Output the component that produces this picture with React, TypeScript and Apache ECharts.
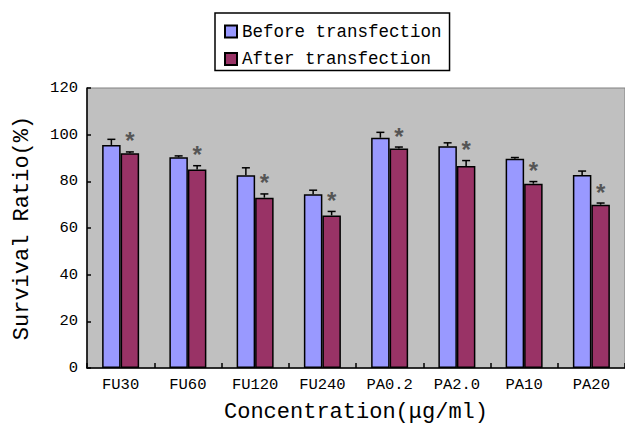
import React, { useEffect, useRef } from "react";
import * as echarts from "echarts";

const categories = ["FU30", "FU60", "FU120", "FU240", "PA0.2", "PA2.0", "PA10", "PA20"];
const beforeValues = [95.6, 90.3, 82.6, 74.5, 98.7, 95.0, 89.7, 82.7];
const beforeErrors = [2.4, 0.6, 3.2, 1.7, 2.3, 1.5, 0.5, 1.7];
const afterValues = [92.0, 85.1, 73.0, 65.4, 94.1, 86.6, 79.0, 70.0];
const afterErrors = [0.6, 1.6, 1.6, 1.7, 0.6, 2.3, 0.9, 0.7];
const seriesNames = ["Before transfection", "After transfection"];
const yTicks = { min: 0, max: 120, interval: 20 };

const FONT = "Liberation Mono";
const BAR_W = 18.5;

function errorSeries(values: number[], errors: number[], offset: number, star: boolean) {
  return {
    type: "custom",
    silent: true,
    z: 5,
    data: values.map((v, i) => [i, v, v + errors[i]]),
    renderItem: (params: any, api: any) => {
      const base = api.coord([api.value(0), api.value(1)]);
      const top = api.coord([api.value(0), api.value(2)]);
      const x = base[0] + offset;
      const children: any[] = [
        { type: "line", shape: { x1: x, y1: base[1], x2: x, y2: top[1] }, style: { stroke: "#000", lineWidth: 1.5 } },
        { type: "line", shape: { x1: x - 4, y1: top[1], x2: x + 4, y2: top[1] }, style: { stroke: "#000", lineWidth: 1.5 } },
      ];
      if (star) {
        children.push({
          type: "text",
          x: x,
          y: top[1] - 8,
          style: { text: "*", fill: "#555", font: `bold 24px ${FONT}`, align: "center", verticalAlign: "middle" },
        });
      }
      return { type: "group", children };
    },
  };
}

export default function App() {
  const ref = useRef<HTMLDivElement>(null);
  useEffect(() => {
    if (!ref.current) return;
    const chart = echarts.init(ref.current, null, { renderer: "svg" });
    chart.setOption({
      animation: false,
      backgroundColor: "#fff",
      textStyle: { fontFamily: FONT },
      legend: {
        orient: "vertical",
        left: 215,
        top: 13,
        padding: [9.5, 8, 2.5, 9],
        itemGap: 9.5,
        itemWidth: 12,
        itemHeight: 12,
        icon: "rect",
        borderColor: "#000",
        borderWidth: 1.5,
        backgroundColor: "#fff",
        textStyle: { fontFamily: FONT, fontSize: 17.5, color: "#000" },
        data: seriesNames,
      },
      grid: {
        left: 87,
        top: 88,
        width: 541,
        height: 280,
        show: true,
        backgroundColor: "#c0c0c0",
        borderColor: "#808080",
        borderWidth: 1,
      },
      xAxis: {
        type: "category",
        data: categories,
        name: "Concentration(μg/ml)",
        nameLocation: "middle",
        nameGap: 33,
        nameTextStyle: { fontFamily: FONT, fontSize: 22, color: "#000" },
        axisLine: { lineStyle: { color: "#000", width: 1.5 } },
        axisTick: { show: true, inside: true, length: 5, lineStyle: { color: "#000", width: 1.5 } },
        axisLabel: { fontFamily: FONT, fontSize: 15.5, color: "#000", margin: 9 },
      },
      yAxis: {
        type: "value",
        min: yTicks.min,
        max: yTicks.max,
        interval: yTicks.interval,
        name: "Survival Ratio(%)",
        nameLocation: "middle",
        nameGap: 54,
        nameTextStyle: { fontFamily: FONT, fontSize: 22, color: "#000" },
        axisLine: { show: true, lineStyle: { color: "#000", width: 1.5 } },
        axisTick: { show: true, inside: true, length: 4, lineStyle: { color: "#000", width: 1.5 } },
        splitLine: { show: false },
        axisLabel: { fontFamily: FONT, fontSize: 15.5, color: "#000", margin: 9 },
      },
      series: [
        {
          name: seriesNames[0],
          type: "bar",
          data: beforeValues,
          barWidth: BAR_W,
          barGap: "0%",
          itemStyle: { color: "#9999ff", borderColor: "#000", borderWidth: 1.5 },
        },
        {
          name: seriesNames[1],
          type: "bar",
          data: afterValues,
          barWidth: BAR_W,
          barGap: "0%",
          itemStyle: { color: "#993366", borderColor: "#000", borderWidth: 1.5 },
        },
        errorSeries(beforeValues, beforeErrors, -BAR_W / 2, false),
        errorSeries(afterValues, afterErrors, BAR_W / 2, true),
      ],
    });
    return () => chart.dispose();
  }, []);
  return <div ref={ref} style={{ width: 625, height: 432, position: "absolute", left: 0, top: 0 }} />;
}
